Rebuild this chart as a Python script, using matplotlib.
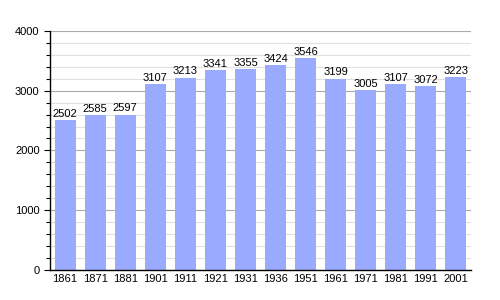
import matplotlib.pyplot as plt
from matplotlib.ticker import MultipleLocator

plt.rcParams['font.family'] = ['Liberation Sans', 'DejaVu Sans']

# Données
years = ['1861', '1871', '1881', '1901', '1911', '1921', '1931',
         '1936', '1951', '1961', '1971', '1981', '1991', '2001']
population = [2502, 2585, 2597, 3107, 3213, 3341, 3355,
              3424, 3546, 3199, 3005, 3107, 3072, 3223]

fig = plt.figure(figsize=(5, 3), dpi=100)
ax = fig.add_axes([0.1, 0.1, 0.842, 0.797])

x = range(len(years))
ax.bar(x, population, width=0.7, color='#99aaff', zorder=2)

for i, v in enumerate(population):
    ax.text(i, v + 25, str(v), ha='center', va='bottom', fontsize=8, zorder=3)

ax.set_xlim(-0.5, len(years) - 0.5)
ax.set_ylim(0, 4000)
ax.set_xticks(list(x))
ax.set_xticklabels(years, fontsize=8)
ax.yaxis.set_major_locator(MultipleLocator(1000))
ax.yaxis.set_minor_locator(MultipleLocator(200))
ax.tick_params(axis='y', labelsize=8, length=4, width=0.8)
ax.tick_params(axis='y', which='minor', length=3, width=0.8)
ax.tick_params(axis='x', length=0, pad=3)

ax.grid(axis='y', which='major', color='#aaaaaa', linewidth=0.8, zorder=0)
ax.grid(axis='y', which='minor', color='#e0e0e0', linewidth=0.8, zorder=0)
ax.set_axisbelow(True)

for s in ['top', 'right']:
    ax.spines[s].set_visible(False)
ax.spines['left'].set_linewidth(1)
ax.spines['bottom'].set_linewidth(1)

fig.savefig('out.png', dpi=100)
plt.close()
